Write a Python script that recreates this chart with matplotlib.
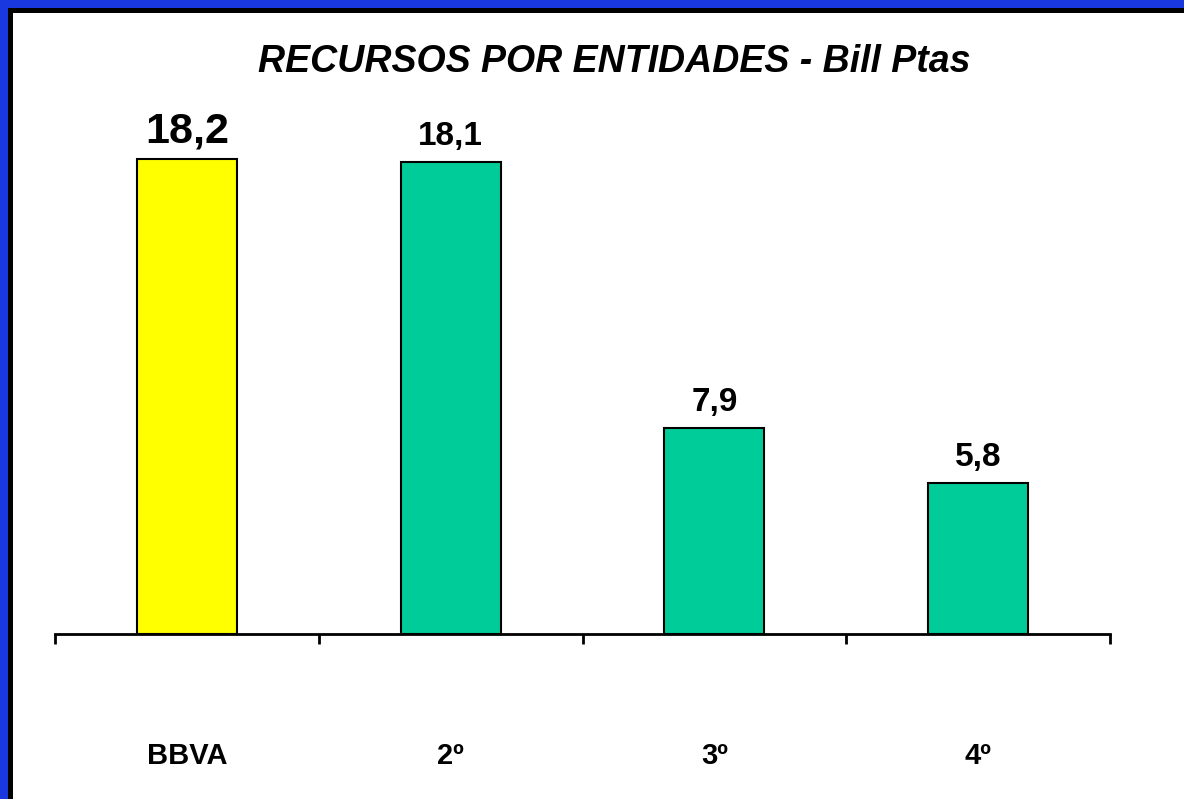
import matplotlib.pyplot as plt
from matplotlib.patches import Rectangle

# data
categories = ['BBVA', '2º', '3º', '4º']
values = [18.2, 18.1, 7.9, 5.8]
value_labels = ['18,2', '18,1', '7,9', '5,8']
bar_colors = ['#FFFF00', '#00CC99', '#00CC99', '#00CC99']
label_sizes = [31, 24, 24, 24]

plt.rcParams['font.family'] = ['Liberation Sans', 'DejaVu Sans']

W, H = 1184, 799
fig = plt.figure(figsize=(W / 100, H / 100), dpi=100)
fig.patch.set_facecolor('#1A38E0')

# black frame + white panel, behind the axes
fig.patches.append(Rectangle((8 / W, -0.1), 1.2, (H - 8) / H + 0.1,
                             transform=fig.transFigure, facecolor='black',
                             edgecolor='none', zorder=-2))
fig.patches.append(Rectangle((13 / W, -0.1), 1.2, (H - 13) / H + 0.1,
                             transform=fig.transFigure, facecolor='white',
                             edgecolor='none', zorder=-1))

ax = fig.add_axes([55 / W, (H - 634) / H, (1110 - 55) / W, 534 / H])
ax.set_facecolor('none')

x = list(range(len(categories)))
ax.bar(x, values, width=0.38, color=bar_colors, edgecolor='black',
       linewidth=1.5, zorder=2)

for i, (v, lab, fs) in enumerate(zip(values, value_labels, label_sizes)):
    ax.annotate(lab, (i, v), xytext=(0, 12), textcoords='offset points',
                ha='center', va='baseline', fontsize=fs, fontweight='bold')

for i, cat in enumerate(categories):
    ax.text(i, -0.229, cat, transform=ax.get_xaxis_transform(),
            ha='center', va='center', fontsize=21, fontweight='bold')

ax.set_xlim(-0.5, 3.5)
ax.set_ylim(0, 534 / 26.1)
ax.set_xticks([-0.5, 0.5, 1.5, 2.5, 3.5])
ax.set_xticklabels([])
ax.tick_params(axis='x', direction='out', length=7.5, width=2)
ax.set_yticks([])
for s in ['top', 'right', 'left']:
    ax.spines[s].set_visible(False)
ax.spines['bottom'].set_linewidth(2)

fig.text(614 / W, 1 - 62 / H, 'RECURSOS POR ENTIDADES - Bill Ptas',
         ha='center', va='center', fontsize=27, fontweight='bold',
         fontstyle='italic')

fig.savefig('out.png', dpi=100, facecolor=fig.get_facecolor())
